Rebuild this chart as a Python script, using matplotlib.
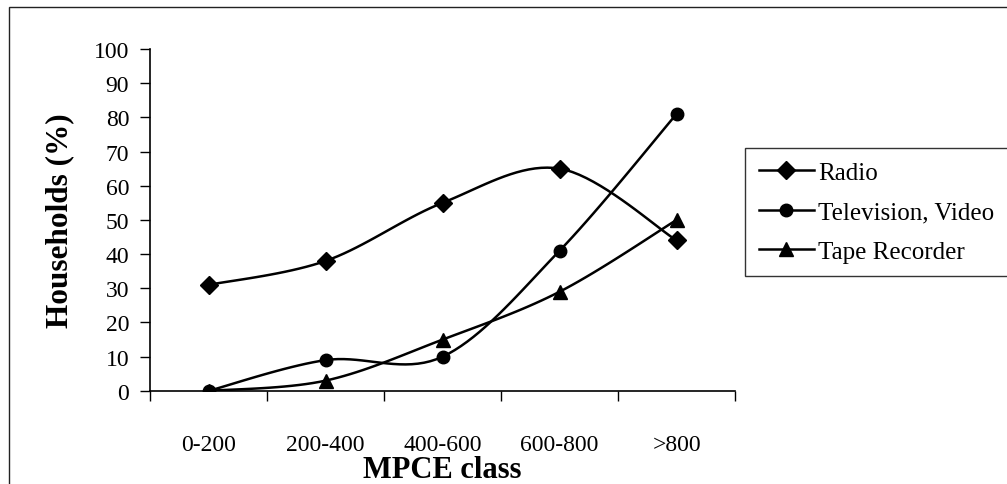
import numpy as np
import matplotlib
matplotlib.use("Agg")
import matplotlib.pyplot as plt
from matplotlib.patches import Rectangle

plt.rcParams['font.family'] = ['Liberation Serif', 'DejaVu Serif']

# Household ownership of media devices by MPCE class
classes = ['0-200', '200-400', '400-600', '600-800', '>800']
radio = [31, 38, 55, 65, 44]
television = [0, 9, 10, 41, 81]
tape_recorder = [0, 3, 15, 29, 50]


def smooth(xs, ys, n=20):
    # Bezier smoothing through every point (control points from neighbours)
    p = np.column_stack([xs, ys]).astype(float)
    ext = np.vstack([p[0], p, p[-1]])
    out = [p[:1]]
    t = np.linspace(0, 1, n)[1:, None]
    for i in range(len(p) - 1):
        p0, p3 = ext[i + 1], ext[i + 2]
        c1 = p0 + (ext[i + 2] - ext[i]) / 6
        c2 = p3 - (ext[i + 3] - ext[i + 1]) / 6
        seg = ((1 - t) ** 3) * p0 + 3 * ((1 - t) ** 2) * t * c1 \
            + 3 * (1 - t) * t ** 2 * c2 + t ** 3 * p3
        out.append(seg)
    s = np.vstack(out)
    return s[:, 0], s[:, 1]


fig = plt.figure(figsize=(10.07, 4.85), dpi=100)
ax = fig.add_axes([0.149, 0.192, 0.581, 0.705])

x = np.arange(len(classes)) + 0.5
series = [(radio, 'D', 9, 'Radio'),
          (television, 'o', 9, 'Television, Video'),
          (tape_recorder, '^', 10, 'Tape Recorder')]
for vals, mk, ms, name in series:
    sx, sy = smooth(x, vals)
    ax.plot(sx, sy, color='black', lw=1.8, solid_joinstyle='round')
    ax.plot(x, vals, linestyle='none', marker=mk, ms=ms, color='black')
    ax.plot([], [], color='black', lw=1.8, marker=mk, ms=ms, label=name)

ax.set_xlim(0, len(classes))
ax.set_ylim(0, 100)
ax.set_yticks(np.arange(0, 101, 10))
ax.set_xticks(np.arange(0, len(classes) + 1))
ax.set_xticklabels([])
ax.set_xticks(x, minor=True)
ax.set_xticklabels(classes, minor=True)
ax.tick_params(axis='x', which='minor', length=0, pad=31, labelsize=17)
ax.tick_params(axis='x', which='major', length=7, width=1, direction='out')
ax.tick_params(axis='y', length=7, width=1, direction='out', pad=8, labelsize=17)

for side in ['top', 'right']:
    ax.spines[side].set_visible(False)
for side in ['left', 'bottom']:
    ax.spines[side].set_linewidth(1.2)

ax.set_xlabel('MPCE class', fontsize=22, fontweight='bold', labelpad=0)
ax.set_ylabel('Households (%)', fontsize=22.5, fontweight='bold', labelpad=14)

leg = fig.legend(loc='upper left', bbox_to_anchor=(745 / 1007, 1 - 149 / 485),
                 fontsize=18, frameon=True, fancybox=False, handlelength=2.2,
                 handletextpad=0.2, borderpad=0.54, labelspacing=0.67,
                 borderaxespad=0)
leg.get_frame().set_edgecolor('black')
leg.get_frame().set_linewidth(1.0)

# outer chart frame
fig.patches.append(Rectangle((9 / 1007, -0.1), 1.2, 1 - 8 / 485 + 0.1,
                             transform=fig.transFigure, fill=False,
                             edgecolor='#222222', lw=1.0))

fig.savefig('out.png', dpi=100)
